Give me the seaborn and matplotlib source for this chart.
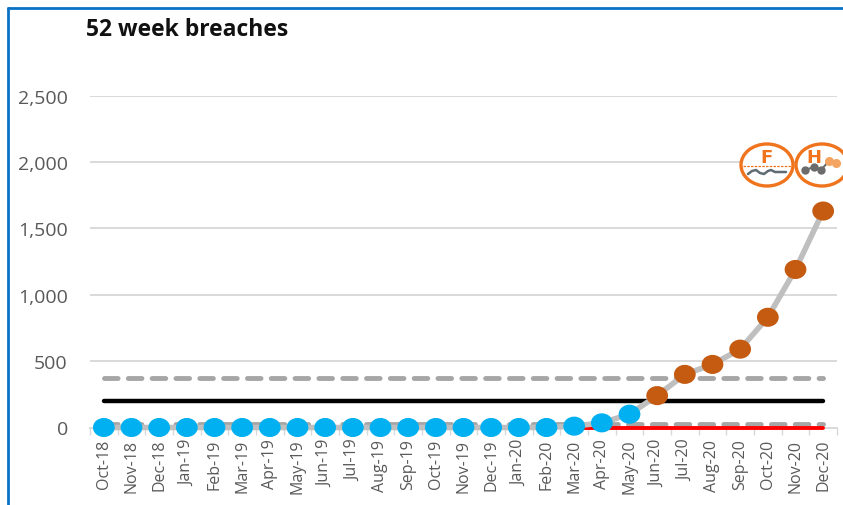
import numpy as np
import pandas as pd
import seaborn as sns
import matplotlib
matplotlib.use("Agg")
import matplotlib.pyplot as plt
from matplotlib.patches import Ellipse
from matplotlib.path import Path
from matplotlib.lines import Line2D
from matplotlib.transforms import Affine2D

months = ["Oct-18","Nov-18","Dec-18","Jan-19","Feb-19","Mar-19","Apr-19","May-19","Jun-19",
          "Jul-19","Aug-19","Sep-19","Oct-19","Nov-19","Dec-19","Jan-20","Feb-20","Mar-20",
          "Apr-20","May-20","Jun-20","Jul-20","Aug-20","Sep-20","Oct-20","Nov-20","Dec-20"]
breaches = [0,0,0,0,0,0,0,0,0,0,0,0,0,0,0,0,0,10,35,100,240,400,475,590,830,1190,1630]
status = ["normal"]*20 + ["special"]*7
upper = [370]*27
mean = [200]*27
lower = [30]*27
target_months = months[17:]
target = [0]*10
yticks = [0,500,1000,1500,2000,2500]

W, H = 843, 506
sns.set_theme(style="white")
plt.rcParams["font.family"] = ["Open Sans", "DejaVu Sans"]
fig = plt.figure(figsize=(W/100, H/100), dpi=100)
ax = fig.add_axes([90/W, 1-428.5/H, (837-90)/W, (428.5-96.5)/H])

pos = {m: i for i, m in enumerate(months)}
df = pd.DataFrame({"x": range(27), "breaches": breaches, "status": status,
                   "upper": upper, "mean": mean, "lower": lower})
tdf = pd.DataFrame({"x": [pos[m] for m in target_months], "target": target})

dash = (0, (2.8, 2.1))
sns.lineplot(data=df, x="x", y="breaches", color="#bfbfbf", lw=4, ax=ax, zorder=3.2)
sns.lineplot(data=df, x="x", y="upper", color="#a6a6a6", lw=3.5, ax=ax, zorder=3,
             linestyle=dash, dash_capstyle="round")
sns.lineplot(data=df, x="x", y="lower", color="#a6a6a6", lw=3.5, ax=ax, zorder=3,
             linestyle=dash, dash_capstyle="round")
sns.lineplot(data=df, x="x", y="mean", color="black", lw=3.2, ax=ax, zorder=3,
             solid_capstyle="round")
sns.lineplot(data=tdf, x="x", y="target", color="#ff0000", lw=2.8, ax=ax, zorder=3.1,
             solid_capstyle="round")
for line in ax.lines:
    line.set_clip_on(False)

wide = Path.unit_circle().transformed(Affine2D().scale(1.14, 1.0))
sns.scatterplot(data=df, x="x", y="breaches", hue="status",
                palette={"normal": "#00b0f0", "special": "#c55a11"},
                marker=wide, s=245, linewidth=0, legend=False, ax=ax, zorder=4, clip_on=False)

ax.set_xlim(-0.5, 26.5)
ax.set_ylim(0, 2500)
ax.set_xlabel("")
ax.set_ylabel("")
ax.set_xticks(range(27))
ax.set_xticklabels(months, rotation=90, fontsize=11.5, color="#595959")
ax.set_xticks(np.arange(-0.5, 27, 1), minor=True)
ax.set_yticks(yticks)
ax.set_yticklabels([f"{v:,}" for v in yticks], fontsize=14, color="#595959")
ax.tick_params(axis="x", which="major", length=0, pad=8)
ax.tick_params(axis="x", which="minor", length=5, width=1, color="#d9d9d9", bottom=True)
ax.tick_params(axis="y", length=0, pad=16)
ax.yaxis.grid(True, color="#d9d9d9", lw=1.4)
ax.set_axisbelow(True)
for s in ["top", "left", "right"]:
    ax.spines[s].set_visible(False)
ax.spines["bottom"].set_color("#d9d9d9")
ax.spines["bottom"].set_linewidth(1.4)

fig.text(86/W, 1-30/H, "52 week breaches", fontsize=16.5, fontweight="bold",
         color="#111111", ha="left", va="center")

# frame of the pasted panel
def px(x, y):
    return x/W, 1-y/H
for xs, ys in [((8, 8), (9, 506)), ((8, 843), (9, 9))]:
    a, b = zip(*(px(x, y) for x, y in zip(xs, ys)))
    fig.add_artist(Line2D(a, b, color="#0a72c4", lw=2))

# SPC icons, placed in page pixels
icon = fig.add_axes([0, 0, 1, 1], facecolor="none")
icon.set_xlim(0, W); icon.set_ylim(H, 0); icon.axis("off")
orange = "#f0741e"
for cx in (767, 822):
    icon.add_patch(Ellipse((cx, 166), 52, 42, fc="white", ec=orange, lw=2.4, zorder=5))
icon.plot([743, 791], [167, 167], color=orange, lw=0.9, ls=(0, (2, 1)), zorder=6)
icon.text(766, 158, "F", color=orange, fontsize=13, fontweight="bold", family="DejaVu Sans",
          ha="center", va="center", zorder=6)
icon.text(814, 158, "H", color=orange, fontsize=13, fontweight="bold", family="DejaVu Sans",
          ha="center", va="center", zorder=6)
icon.plot([748, 752, 756, 760, 764, 768, 771, 775, 786],
          [175, 172, 171, 174, 175, 172, 171, 173, 173], color="#5f6b73", lw=1.8, zorder=6)
icon.plot([805, 814, 821], [171, 168, 171], color="#6b6b6b", lw=1.5, marker="o", ms=5, zorder=6)
icon.plot([821, 829], [171, 162], color="#6b6b6b", lw=1.5, zorder=6)
icon.plot([829, 836], [162, 164], color="#f4a460", lw=1.5, marker="o", ms=5.5, zorder=6)

fig.savefig("out.png", dpi=100)
